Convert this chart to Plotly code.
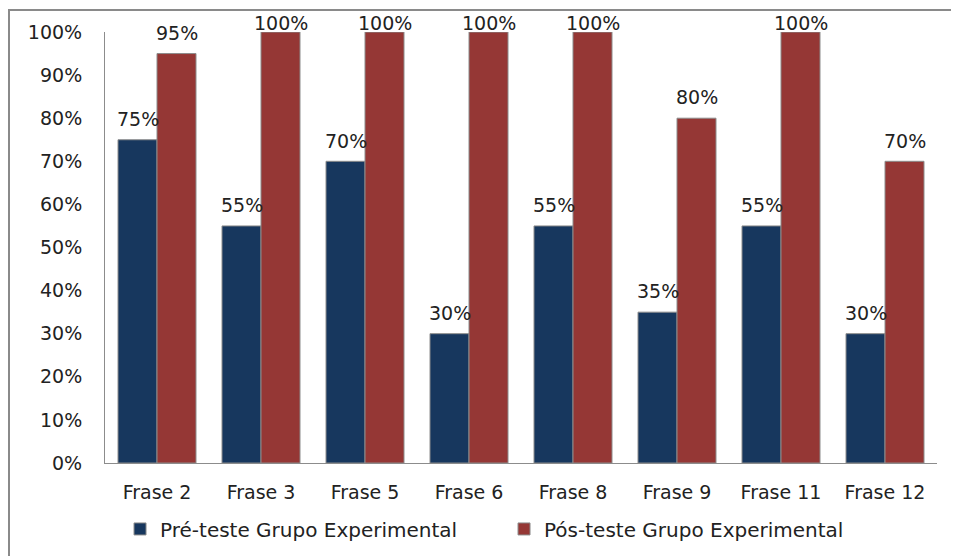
import plotly.graph_objects as go

categories = ["Frase 2", "Frase 3", "Frase 5", "Frase 6", "Frase 8", "Frase 9", "Frase 11", "Frase 12"]
pre_values = [75, 55, 70, 30, 55, 35, 55, 30]
post_values = [95, 100, 100, 100, 100, 80, 100, 70]
series_names = ["Pré-teste Grupo Experimental", "Pós-teste Grupo Experimental"]
colors = ["#17375E", "#953735"]

FONT = "DejaVu Sans"
FS = 19
W, H = 951, 548
L, R, T, B = 97, 22, 24, 93
plot_w = W - L - R
plot_h = H - T - B

fig = go.Figure()
for name, vals, col in zip(series_names, [pre_values, post_values], colors):
    fig.add_trace(go.Bar(
        x=categories, y=vals, name=name,
        marker=dict(color=col, line=dict(color="#8c8c8c", width=1)),
    ))

# data labels (Excel style: above bar, clamped to top of plot area)
offset_px = 39 / 2
for i, vals in enumerate([pre_values, post_values]):
    sh = -offset_px if i == 0 else offset_px
    for c, v in zip(categories, vals):
        fig.add_annotation(
            x=c, y=min(v + 1.8, 99), xref="x", yref="y",
            text=f"{v}%", showarrow=False, xshift=sh, yanchor="bottom",
            font=dict(family=FONT, size=FS, color="#222222"),
        )

# outer chart border
fig.add_shape(type="rect", xref="paper", yref="paper",
              x0=(1 - L) / plot_w, x1=1.2, y0=-0.5, y1=1 + (T - 2) / plot_h,
              line=dict(color="#8a8a8a", width=2), fillcolor="rgba(0,0,0,0)", layer="below")

fig.update_layout(
    width=W, height=H,
    margin=dict(l=L, r=R, t=T, b=B, autoexpand=False),
    paper_bgcolor="white", plot_bgcolor="white",
    barmode="group", bargap=0.25, bargroupgap=0,
    font=dict(family=FONT, size=FS, color="#222222"),
    showlegend=True,
    legend=dict(orientation="h", x=0.4796, xanchor="center", y=-0.153, yanchor="middle",
                font=dict(family=FONT, size=20, color="#222222"),
                itemwidth=30, entrywidth=339),
    xaxis=dict(showline=True, linecolor="#8c8c8c", linewidth=1, ticks="",
               showgrid=False, ticklabelstandoff=12,
               tickfont=dict(family=FONT, size=FS, color="#222222")),
    yaxis=dict(range=[0, 100], dtick=10, ticksuffix="%", showline=True,
               linecolor="#8c8c8c", linewidth=1, showgrid=False, zeroline=False,
               ticks="", ticklabelstandoff=18,
               tickfont=dict(family=FONT, size=FS, color="#222222")),
)

fig.write_html("out.html")
